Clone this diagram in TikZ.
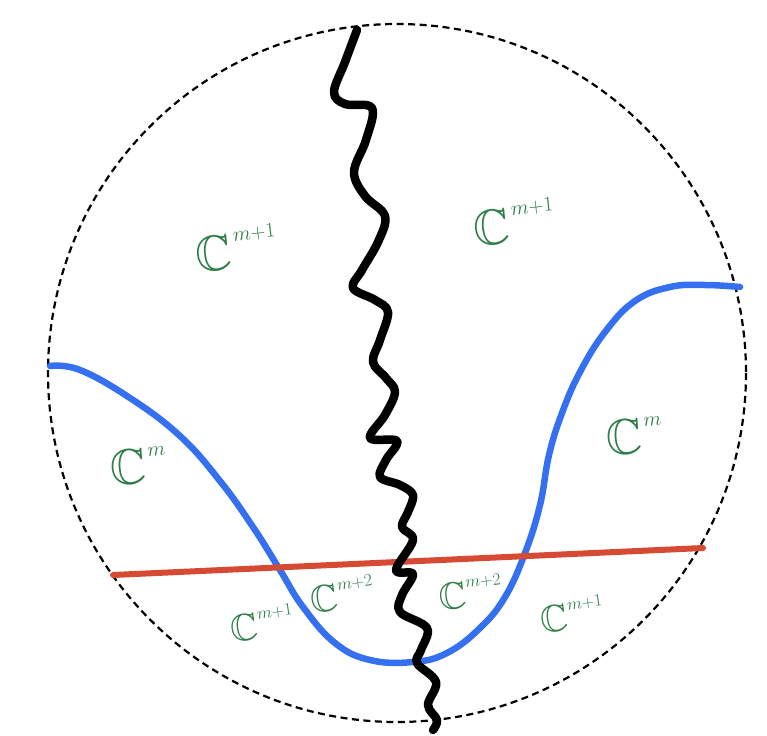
\documentclass[tikz,border=0pt]{standalone}
\usepackage{amssymb}
\definecolor{lblgreen}{RGB}{46,125,72}
\definecolor{curveblue}{RGB}{52,112,240}
\definecolor{linered}{RGB}{214,74,52}
\newcommand{\bigC}[1]{{\fontsize{50}{50}\selectfont$\mathbb{C}$}\hspace{2.5pt}\raisebox{27pt}{\fontsize{21}{21}\selectfont$#1$}}
\newcommand{\smallC}[1]{{\fontsize{38}{38}\selectfont$\mathbb{C}$}\hspace{0.5pt}\raisebox{20pt}{\fontsize{17}{17}\selectfont$#1$}}
\tikzset{
  boundary/.style={line width=2.2pt, dash pattern=on 7pt off 4.5pt},
  wiggle/.style={line width=8.5pt, line cap=round, line join=round},
  wall/.style={curveblue, line width=6.5pt, line cap=round},
  cut/.style={linered, line width=6pt, line cap=round},
  lbl/.style={lblgreen, inner sep=0pt}
}
\begin{document}
\begin{tikzpicture}[x=1pt,y=-1pt]
\useasboundingbox (0,0) rectangle (767,735);
\coordinate (ctr) at (397,373);
\draw[boundary] (ctr) circle (349);
% blue wall
\draw[wall] plot[smooth, tension=0.7] coordinates {(50,366) (80,370) (130,398) (180,436) (220,481) (253,527) (280,570) (303,607) (335,643) (370,660) (413,662) (447,653) (480,628) (505,597) (525,553) (540,505) (549,455) (562,413) (580,372) (605,332) (635,301) (670,287) (705,285) (740,287)};
% red line
\coordinate (rl) at (113,575);
\coordinate (rr) at (703,548);
\draw[cut] (rl) -- (rr);
% black wiggly line
\draw[wiggle] plot[smooth, tension=0.6] coordinates {(357,30) (345,62) (334,92) (345,104) (372,108) (366,140) (354,172) (365,196) (385,216) (378,242) (362,270) (353,288) (375,300) (388,312) (380,340) (373,362) (386,378) (395,392) (385,415) (370,438) (397,441) (386,460) (380,477) (400,485) (413,495) (408,512) (402,527) (413,540) (396,570) (413,574) (402,595) (400,612) (427,628) (421,650) (417,663) (436,682) (428,705) (437,720) (433,730)};
% labels
\node[lbl, rotate=6] (l1) at (236,248) {\bigC{m{+}1}};
\node[lbl, rotate=6] (l2) at (514,222) {\bigC{m{+}1}};
\node[lbl, rotate=4] (l3) at (138,466) {\bigC{m}};
\node[lbl, rotate=4] (l4) at (634,436) {\bigC{m}};
\node[lbl, rotate=8] (l5) at (262,623) {\smallC{m{+}1}};
\node[lbl, rotate=8] (l6) at (342,594) {\smallC{m{+}2}};
\node[lbl, rotate=6] (l7) at (470,592) {\smallC{m{+}2}};
\node[lbl, rotate=8] (l8) at (572,614) {\smallC{m{+}1}};
\end{tikzpicture}
\end{document}
